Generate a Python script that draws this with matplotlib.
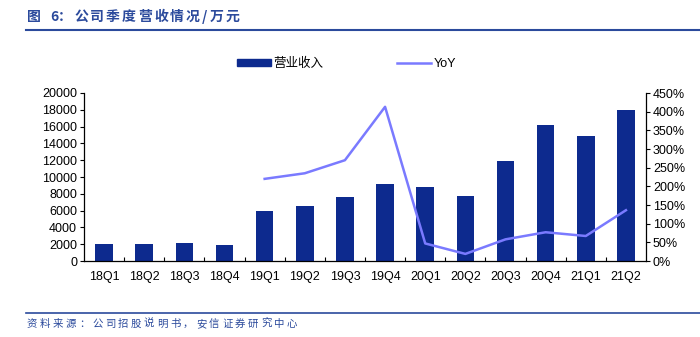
import numpy as np
import matplotlib
matplotlib.use("Agg")
from matplotlib import pyplot as plt
from matplotlib.lines import Line2D
from matplotlib.patches import Patch

plt.rcParams['font.family'] = ['Liberation Sans', 'Noto Sans CJK SC', 'DejaVu Sans']

# Quarterly revenue (10k yuan) and YoY growth (%)
quarters = ['18Q1', '18Q2', '18Q3', '18Q4', '19Q1', '19Q2', '19Q3', '19Q4',
            '20Q1', '20Q2', '20Q3', '20Q4', '21Q1', '21Q2']
revenue = [2000, 2000, 2150, 1850, 6000, 6580, 7580, 9130,
           8850, 7700, 11900, 16190, 14880, 17940]
yoy = [220, 235, 270, 413, 47, 19, 58, 77, 67, 136]

title = '图 6：公司季度营收情况/万元'
source = '资料来源：公司招股说明书，安信证券研究中心'

bar_color = '#0d2a8e'
line_color = '#7a7aff'
title_blue = '#2b4a9c'
cjk = ['Noto Sans CJK SC', 'DejaVu Sans']

fig = plt.figure(figsize=[7, 3.37], dpi=100)
ax = fig.add_axes([84 / 700, 1 - 261 / 337, (646 - 84) / 700, (261 - 93) / 337])
ax2 = ax.twinx()

x = np.arange(len(quarters))
ax.bar(x, revenue, width=0.44, color=bar_color, zorder=2)
yx = np.arange(len(quarters) - len(yoy), len(quarters))
ax2.plot(yx, yoy, color=line_color, lw=1.8)

ax.set_xlim(-0.5, len(quarters) - 0.5)
ax.set_ylim(0, 20000)
ax.set_yticks(np.arange(0, 20001, 2000))
ax2.set_ylim(0, 450)
ax2.set_yticks(np.arange(0, 451, 50))
ax2.set_yticklabels([f'{v}%' for v in range(0, 451, 50)])

ax.set_xticks(x)
ax.set_xticklabels(quarters)
ax.set_xticks(np.arange(0.5, len(quarters) - 0.5), minor=True)
ax.tick_params(axis='x', which='major', length=0, pad=7, labelsize=9)
ax.tick_params(axis='x', which='minor', length=3, direction='in', width=0.8)
ax.tick_params(axis='y', length=3, width=0.8, labelsize=9, pad=2)
ax2.tick_params(axis='y', length=3, width=0.8, labelsize=9, pad=2)

for a in (ax, ax2):
    a.spines['top'].set_visible(False)
    for s in a.spines.values():
        s.set_linewidth(0.9)
ax.spines['right'].set_visible(False)
ax2.spines['left'].set_visible(False)
ax2.spines['bottom'].set_visible(False)

# legend
handles = [Patch(color=bar_color), Line2D([], [], color=line_color, lw=1.8)]
fig.legend(handles, ['营业收入', 'YoY'], loc='center left', bbox_to_anchor=(237 / 700, 1 - 64 / 337),
           ncol=2, frameon=False, fontsize=9, columnspacing=5.9, handlelength=2.7,
           handletextpad=0.2, handleheight=0.4, borderpad=0, borderaxespad=0)

# title, spaced out like the original
tx = 27
for ch in title:
    fig.text(tx / 700, 1 - 17 / 337, ch, color=title_blue, fontsize=10,
             fontweight='bold', va='center', family=cjk)
    tx += 7 if ch == ' ' else (8 if ch in '6/' else 16)
fig.add_artist(Line2D([26 / 700, 1], [1 - 30 / 337] * 2, color=title_blue, lw=1.5))
fig.add_artist(Line2D([26 / 700, 1], [1 - 313 / 337] * 2, color=title_blue, lw=1.2))

sx = 27
for ch in source:
    fig.text(sx / 700, 1 - 324 / 337, ch, color=title_blue, fontsize=7.5,
             va='center', family=cjk)
    sx += 13

fig.savefig('out.png', dpi=100)
